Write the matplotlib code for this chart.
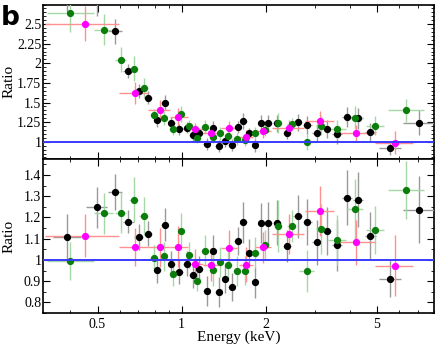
import numpy as np
import matplotlib.pyplot as plt
from matplotlib.ticker import FixedLocator, NullFormatter, MultipleLocator, FuncFormatter

plt.rcParams['font.family'] = ['Liberation Serif', 'DejaVu Serif']
plt.rcParams['font.size'] = 10

# black data set: energy (keV), ratio in top panel, ratio in bottom panel, fractional error, x half-width (dex)
blk_e = [0.388, 0.496, 0.577, 0.644, 0.702, 0.759, 0.818, 0.869, 0.918, 0.981, 1.042, 1.095,
         1.156, 1.229, 1.291, 1.357, 1.429, 1.510, 1.587, 1.662, 1.745, 1.830, 1.930, 2.04,
         2.19, 2.388, 2.60, 2.82, 3.04, 3.30, 3.61, 3.92, 4.27, 4.73, 5.57, 7.05]
blk_top = [2.95, 2.82, 2.407, 1.90, 1.644, 1.564, 1.276, 1.50, 1.234, 1.157, 1.178, 1.085,
           1.107, 0.971, 1.178, 0.945, 1.009, 0.958, 1.187, 1.267, 1.107, 0.954, 1.242, 1.234,
           1.234, 1.107, 1.247, 1.212, 1.114, 1.165, 1.094, 1.314, 1.297, 1.127, 0.924, 1.242]
blk_bot = [1.106, 1.247, 1.32, 1.18, 1.108, 1.123, 0.952, 1.165, 0.98, 0.945, 0.983, 0.928,
           0.955, 0.855, 1.042, 0.849, 0.91, 0.872, 1.09, 1.177, 1.031, 0.894, 1.172, 1.172,
           1.175, 1.066, 1.206, 1.18, 1.083, 1.137, 1.069, 1.292, 1.284, 1.111, 0.912, 1.237]
blk_ferr = [0.10, 0.077, 0.065, 0.046, 0.055, 0.052, 0.065, 0.067, 0.063, 0.062, 0.06, 0.065,
            0.065, 0.082, 0.07, 0.083, 0.073, 0.076, 0.061, 0.083, 0.064, 0.083, 0.08, 0.085,
            0.09, 0.07, 0.084, 0.092, 0.097, 0.10, 0.113, 0.10, 0.10, 0.102, 0.094, 0.126]
blk_dex = [0.05, 0.038, 0.024, 0.02, 0.015, 0.014, 0.012, 0.012, 0.012, 0.012, 0.012, 0.012,
           0.012, 0.012, 0.012, 0.012, 0.012, 0.012, 0.012, 0.012, 0.012, 0.012, 0.012, 0.012,
           0.014, 0.015, 0.015, 0.016, 0.016, 0.016, 0.018, 0.018, 0.018, 0.02, 0.039, 0.057]

grn_e = [0.400, 0.526, 0.606, 0.673, 0.731, 0.796, 0.862, 0.928, 0.994, 1.062, 1.137, 1.208,
         1.291, 1.372, 1.468, 1.574, 1.685, 1.830, 1.987, 2.21, 2.477, 2.80, 3.16, 3.60,
         4.16, 4.93, 6.34]
grn_top = [2.64, 2.43, 2.047, 1.933, 1.69, 1.339, 1.297, 1.157, 1.352, 1.20, 1.043, 1.19,
           1.064, 1.107, 1.072, 1.034, 1.022, 1.114, 1.149, 1.234, 1.225, 1.0, 1.203, 1.157,
           1.305, 1.203, 1.40]
grn_bot = [0.995, 1.219, 1.223, 1.284, 1.207, 1.008, 1.016, 0.934, 1.136, 1.023, 0.902, 1.044,
           0.953, 0.989, 0.977, 0.948, 0.95, 1.034, 1.07, 1.16, 1.16, 0.948, 1.145, 1.094,
           1.24, 1.14, 1.328]
grn_ferr = [0.092, 0.08, 0.08, 0.082, 0.075, 0.062, 0.069, 0.059, 0.075, 0.061, 0.056, 0.071,
            0.078, 0.071, 0.072, 0.074, 0.07, 0.072, 0.066, 0.104, 0.064, 0.103, 0.102, 0.107,
            0.113, 0.10, 0.103]
grn_dex = [0.085, 0.035, 0.02, 0.016, 0.015, 0.014, 0.013, 0.012, 0.012, 0.012, 0.012, 0.012,
           0.012, 0.012, 0.012, 0.012, 0.013, 0.013, 0.014, 0.015, 0.016, 0.027, 0.02, 0.031,
           0.03, 0.032, 0.065]

mag_e = [0.452, 0.679, 0.834, 0.972, 1.116, 1.276, 1.480, 1.699, 1.958, 2.43, 3.13, 4.21, 5.79]
mag_top = [2.505, 1.623, 1.41, 1.31, 1.157, 1.107, 1.17, 1.064, 1.132, 1.178, 1.267, 1.107, 0.987]
mag_bot = [1.114, 1.059, 1.059, 1.062, 0.981, 0.977, 1.055, 0.977, 1.059, 1.122, 1.23, 1.083, 0.972]
mag_ferr = [0.09, 0.085, 0.088, 0.092, 0.07, 0.08, 0.081, 0.084, 0.07, 0.083, 0.095, 0.097, 0.148]
mag_lo = [0.324, 0.598, 0.76, 0.908, 1.056, 1.195, 1.38, 1.61, 1.83, 2.11, 2.77, 3.59, 4.92]
mag_hi = [0.598, 0.76, 0.908, 1.056, 1.195, 1.38, 1.58, 1.80, 2.08, 2.75, 3.51, 4.92, 6.70]

fig = plt.figure(figsize=(4.39, 3.47), dpi=100)
ax1 = fig.add_axes([0.0987, 0.5418, 0.89, 0.4452])
ax2 = fig.add_axes([0.0987, 0.098, 0.89, 0.4438], sharex=ax1)


def xerr_dex(e, dex):
    e = np.array(e)
    d = np.array(dex)
    return [e - e / 10**d, e * 10**d - e]


def draw(ax, which):
    sets = [
        (blk_e, blk_top, blk_bot, blk_ferr, xerr_dex(blk_e, blk_dex), 'black', '#999999'),
        (grn_e, grn_top, grn_bot, grn_ferr, xerr_dex(grn_e, grn_dex), '#0a7d0a', '#a6d8a6'),
        (mag_e, mag_top, mag_bot, mag_ferr,
         [np.array(mag_e) - np.array(mag_lo), np.array(mag_hi) - np.array(mag_e)],
         '#ff00ff', '#ff9090'),
    ]
    for e, top, bot, ferr, xe, mc, ec in sets:
        y = np.array(top if which == 'top' else bot)
        ye = y * np.array(ferr)
        ax.errorbar(e, y, xerr=xe, yerr=ye, fmt='o', ms=4.2, mfc=mc, mec=mc,
                    ecolor=ec, elinewidth=1.0, capsize=0, zorder=3)
    ax.axhline(1.0, color='#3a3aff', lw=1.4, zorder=4)


draw(ax1, 'top')
draw(ax2, 'bot')

ax1.set_xscale('log')
ax1.set_xlim(0.32, 8.0)
ax1.set_ylim(0.78, 2.75)
ax2.set_ylim(0.75, 1.475)

major_x = [0.5, 1, 2, 5]
minor_x = [0.4, 0.6, 0.7, 0.8, 0.9, 3, 4, 6, 7, 8]
for ax in (ax1, ax2):
    ax.xaxis.set_major_locator(FixedLocator(major_x))
    ax.xaxis.set_minor_locator(FixedLocator(minor_x))
    ax.xaxis.set_minor_formatter(NullFormatter())
    ax.tick_params(which='both', direction='in', top=True, right=True, labelsize=10)
    ax.tick_params(which='major', length=5, width=0.8, pad=1.5)
    ax.tick_params(which='minor', length=2.5, width=0.6)
    ax.tick_params(axis='x', which='major', pad=3.5)
    for s in ax.spines.values():
        s.set_linewidth(1.2)
    ax.set_ylabel('Ratio', fontsize=11)

ax1.tick_params(labelbottom=False)
ax2.xaxis.set_major_formatter(FuncFormatter(lambda v, p: '%g' % v))

ax1.yaxis.set_major_locator(FixedLocator([1, 1.25, 1.5, 1.75, 2, 2.25, 2.5]))
ax1.yaxis.set_major_formatter(FuncFormatter(lambda v, p: '%g' % v))
ax1.yaxis.set_minor_locator(MultipleLocator(0.05))
ax2.yaxis.set_major_locator(MultipleLocator(0.1))
ax2.yaxis.set_major_formatter(FuncFormatter(lambda v, p: '%g' % round(v, 2)))
ax2.yaxis.set_minor_locator(MultipleLocator(0.05))

ax2.set_xlabel('Energy (keV)', fontsize=11)
ax2.xaxis.set_label_coords(0.5, -0.112)
ax1.yaxis.set_label_coords(-0.07, 0.5)
ax2.yaxis.set_label_coords(-0.07, 0.5)

fig.text(0.002, 0.985, 'b', fontsize=19, fontweight='bold', family='DejaVu Sans',
         ha='left', va='top')

fig.savefig('out.png', dpi=100)
